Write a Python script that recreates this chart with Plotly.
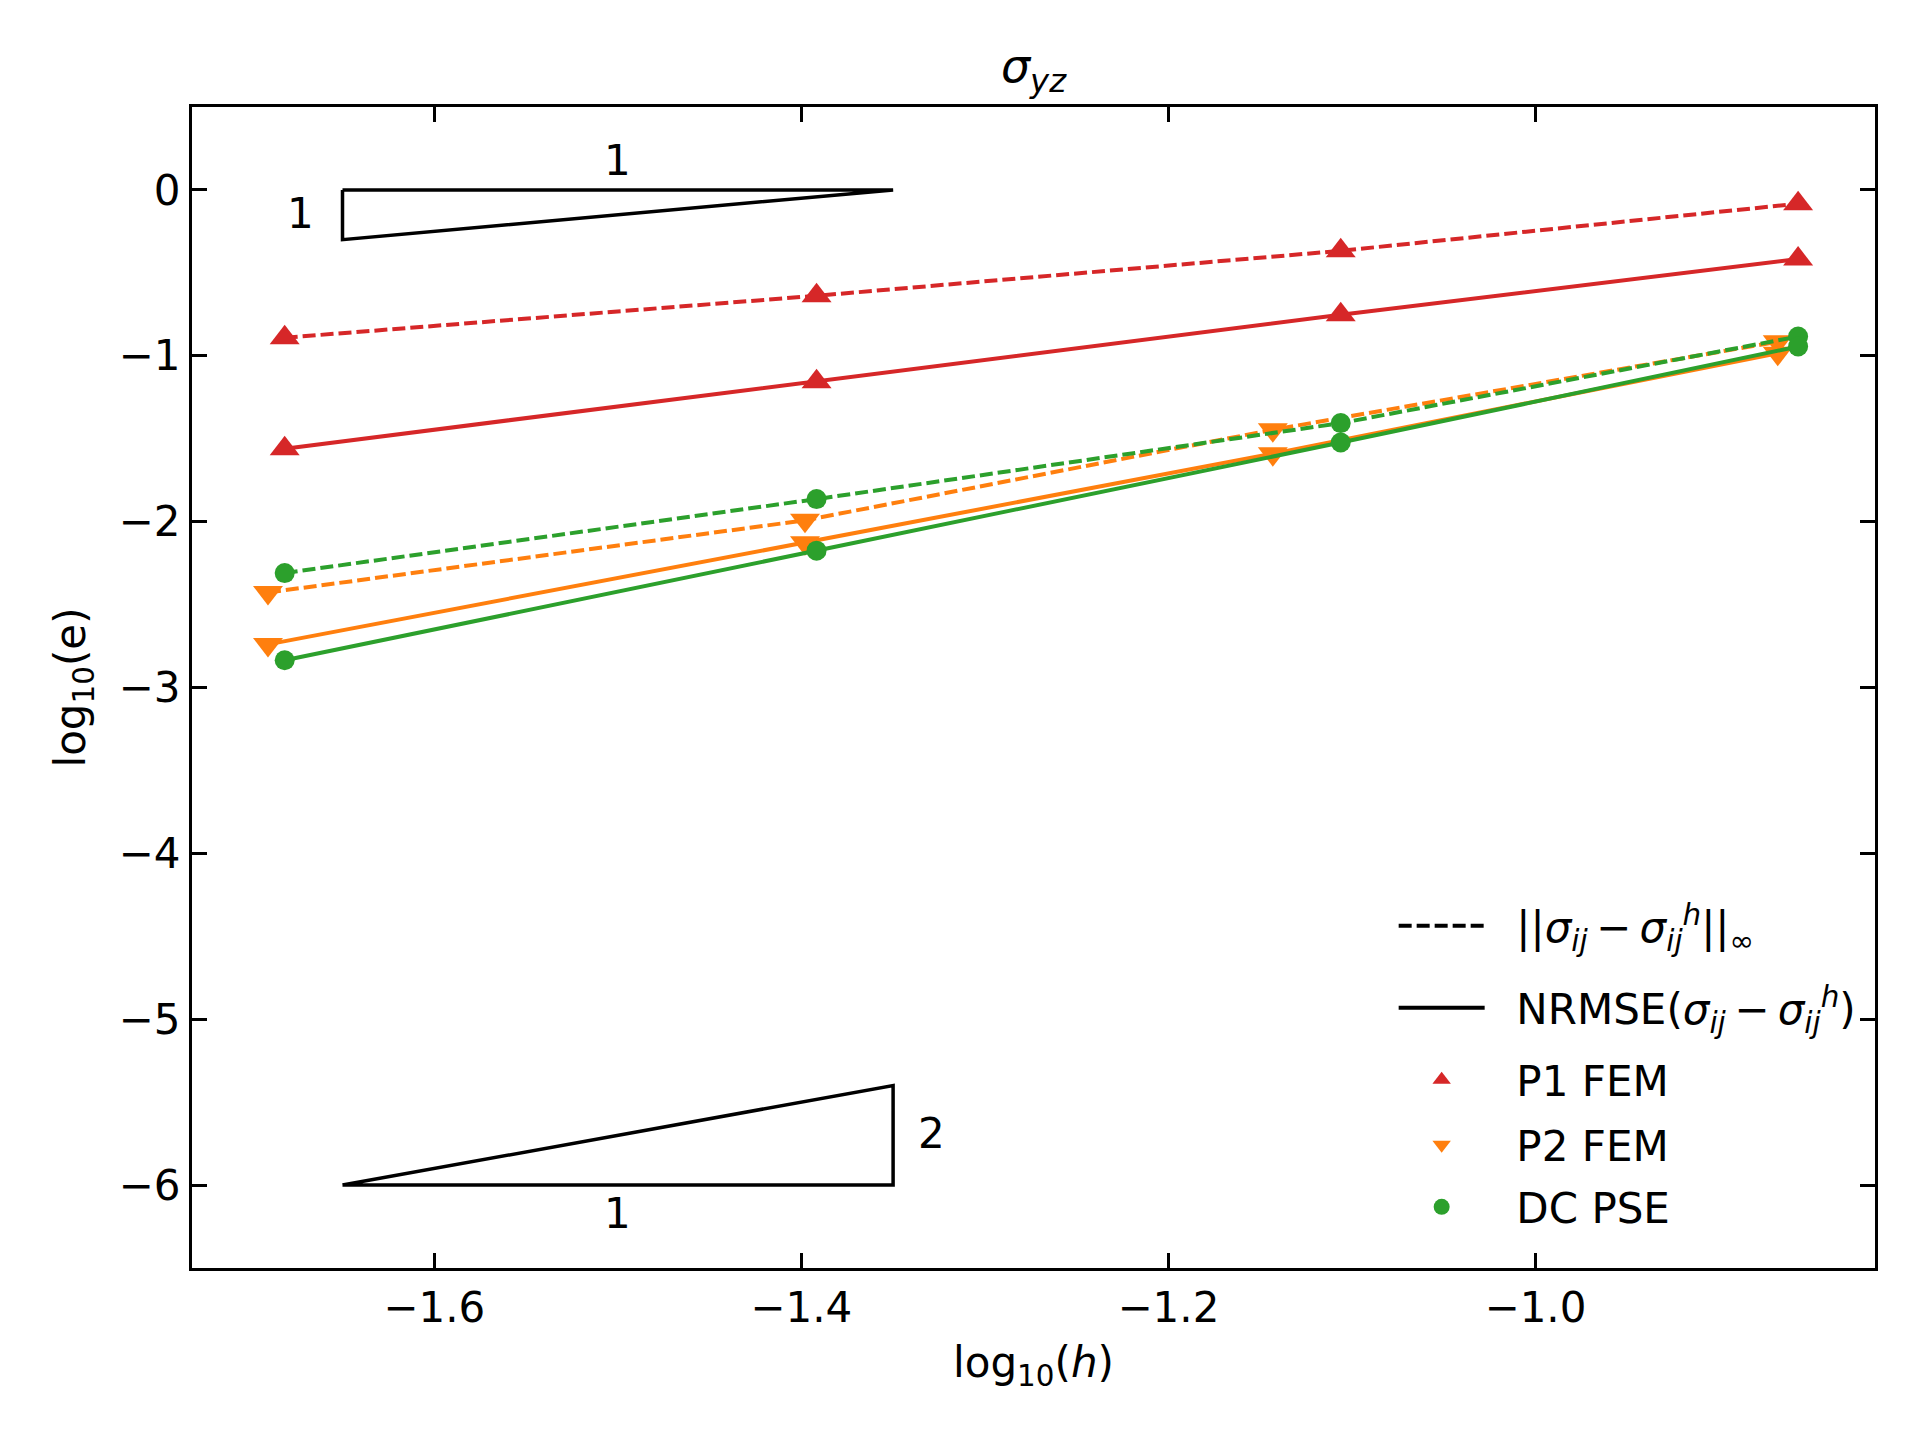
import plotly.graph_objects as go

# ---- data (log10 values) ----
x_p1_dc = [-1.6815, -1.3917, -1.1061, -0.8569]
x_p2 = [-1.6906, -1.3980, -1.1431, -0.8680]

p1_inf = [-0.891, -0.638, -0.367, -0.083]
p1_nrmse = [-1.560, -1.156, -0.753, -0.417]
p2_inf = [-2.427, -1.992, -1.446, -0.915]
p2_nrmse = [-2.740, -2.128, -1.590, -0.985]
dc_inf = [-2.310, -1.864, -1.406, -0.884]
dc_nrmse = [-2.836, -2.175, -1.523, -0.944]

x_ticks = [-1.6, -1.4, -1.2, -1.0]
x_ticktext = ["\u22121.6", "\u22121.4", "\u22121.2", "\u22121.0"]
y_ticks = [-6, -5, -4, -3, -2, -1, 0]
y_ticktext = ["\u22126", "\u22125", "\u22124", "\u22123", "\u22122", "\u22121", "0"]

# slope-reference triangles: (x start, x end, base y, slope)
tri1 = (-1.65, -1.35, 0.0, 1)
tri2 = (-1.65, -1.35, -6.0, 2)

legend_labels = [
    "||<i>σ</i><sub><i>ij</i></sub>\u2009−\u2009<i>σ</i><sub><i>ij</i></sub><sup><i>h</i></sup>||<sub>∞</sub>",
    "NRMSE(<i>σ</i><sub><i>ij</i></sub>\u2009−\u2009<i>σ</i><sub><i>ij</i></sub><sup><i>h</i></sup>)",
    "P1 FEM",
    "P2 FEM",
    "DC PSE",
]

RED = "#d62728"
ORANGE = "#ff7f0e"
GREEN = "#2ca02c"
FONT = "DejaVu Sans"
LW = 4
DASH = "13px,5px"
PAD = "\u00a0\u00a0"

fig = go.Figure()

series = [
    (x_p1_dc, p1_inf, RED, "triangle-up", 26, DASH),
    (x_p1_dc, p1_nrmse, RED, "triangle-up", 26, "solid"),
    (x_p2, p2_inf, ORANGE, "triangle-down", 26, DASH),
    (x_p2, p2_nrmse, ORANGE, "triangle-down", 26, "solid"),
    (x_p1_dc, dc_inf, GREEN, "circle", 20, DASH),
    (x_p1_dc, dc_nrmse, GREEN, "circle", 20, "solid"),
]
for xs, ys, col, sym, ms, dash in series:
    fig.add_trace(go.Scatter(
        x=xs, y=ys, mode="lines+markers",
        line=dict(color=col, width=LW, dash=dash),
        marker=dict(symbol=sym, size=ms, color=col, line=dict(width=0)),
        showlegend=False, hoverinfo="x+y",
    ))

# slope triangles
x0, x1, yb, s = tri1
fig.add_trace(go.Scatter(
    x=[x0, x1, x0, x0], y=[yb, yb, yb - s * (x1 - x0), yb],
    mode="lines", line=dict(color="black", width=3.5), showlegend=False, hoverinfo="skip"))
x0, x1, yb, s = tri2
fig.add_trace(go.Scatter(
    x=[x0, x1, x1, x0], y=[yb, yb, yb + s * (x1 - x0), yb],
    mode="lines", line=dict(color="black", width=3.5), showlegend=False, hoverinfo="skip"))

# legend entries (one legend box per row, to reproduce row spacing)
legend_items = [
    dict(mode="lines", line=dict(color="black", width=LW, dash=DASH)),
    dict(mode="lines", line=dict(color="black", width=LW)),
    dict(mode="markers", marker=dict(symbol="triangle-up", size=26, color=RED)),
    dict(mode="markers", marker=dict(symbol="triangle-down", size=26, color=ORANGE)),
    dict(mode="markers", marker=dict(symbol="circle", size=20, color=GREEN)),
]
legend_rows_px = [926, 1008, 1080, 1145, 1207]  # row centres in the page
for i, (lab, item) in enumerate(zip(legend_labels, legend_items)):
    lname = "legend" if i == 0 else f"legend{i + 1}"
    fig.add_trace(go.Scatter(x=[None], y=[None], name=PAD + lab, legend=lname, **item))

# slope labels
for txt, ax_, ay_ in [("1", -1.5, 0.18), ("1", -1.673, -0.14), ("2", -1.329, -5.69), ("1", -1.5, -6.17)]:
    fig.add_annotation(x=ax_, y=ay_, text=txt, showarrow=False,
                       font=dict(family=FONT, size=42, color="black"))

axis_common = dict(
    showline=True, linecolor="black", linewidth=3.3, mirror="ticks",
    ticks="inside", ticklen=15, tickwidth=3.3, tickcolor="black",
    showgrid=False, zeroline=False,
    tickfont=dict(family=FONT, size=42, color="black"),
)

PLOT_TOP, PLOT_BOT = 107, 1268
layout_legends = {}
for i, ypx in enumerate(legend_rows_px):
    lname = "legend" if i == 0 else f"legend{i + 1}"
    layout_legends[lname] = dict(
        x=0.714, y=(PLOT_BOT - ypx) / (PLOT_BOT - PLOT_TOP),
        xanchor="left", yanchor="middle",
        bgcolor="rgba(0,0,0,0)", borderwidth=0,
        font=dict(family=FONT, size=42, color="black"),
        itemwidth=86, tracegroupgap=0,
    )

fig.update_layout(
    width=1920, height=1440,
    margin=dict(l=184, r=53, t=99, b=180, pad=0),
    paper_bgcolor="white", plot_bgcolor="white",
    font=dict(family=FONT, size=42, color="black"),
    title=dict(text="<i>σ</i><sub><i>yz</i></sub>", x=0.5, xref="paper",
               y=1 - 58 / 1440, yref="container", yanchor="middle",
               font=dict(family=FONT, size=46, color="black")),
    xaxis=dict(range=[-1.732, -0.815], tickvals=x_ticks, ticktext=x_ticktext,
               title=dict(text="log<sub>10</sub>(<i>h</i>)", standoff=18,
                          font=dict(family=FONT, size=42)),
               **axis_common),
    yaxis=dict(range=[-6.5, 0.5], tickvals=y_ticks, ticktext=y_ticktext,
               title=dict(text="log<sub>10</sub>(e)", standoff=20,
                          font=dict(family=FONT, size=42)),
               **axis_common),
    **layout_legends,
)

fig.write_html("out.html")
